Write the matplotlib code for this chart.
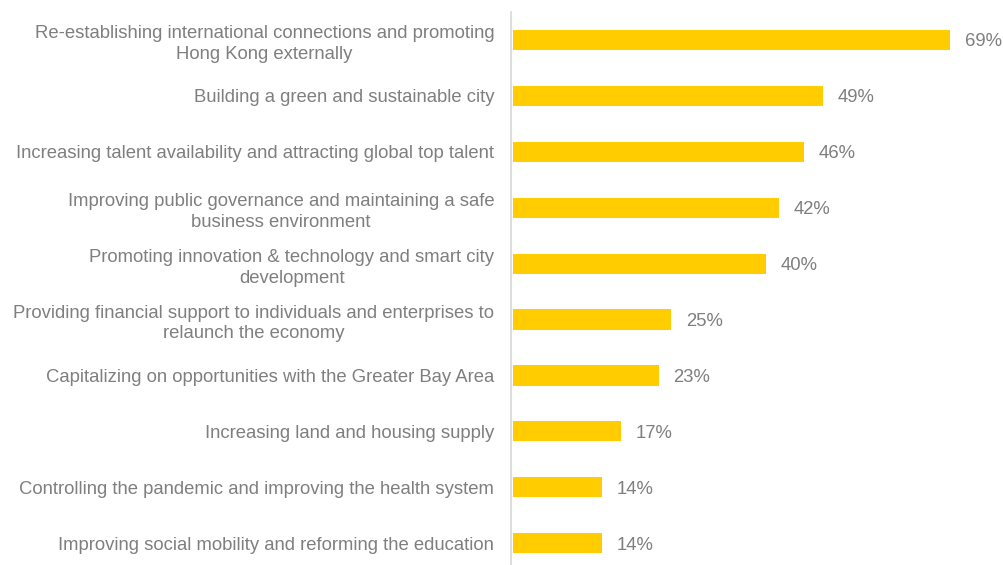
import matplotlib
matplotlib.use('Agg')
import matplotlib.pyplot as plt

plt.rcParams['font.family'] = ['Liberation Sans', 'DejaVu Sans']

categories = [
    "Re-establishing international connections and promoting\nHong Kong externally",
    "Building a green and sustainable city",
    "Increasing talent availability and attracting global top talent",
    "Improving public governance and maintaining a safe\nbusiness environment",
    "Promoting innovation & technology and smart city\ndevelopment",
    "Providing financial support to individuals and enterprises to\nrelaunch the economy",
    "Capitalizing on opportunities with the Greater Bay Area",
    "Increasing land and housing supply",
    "Controlling the pandemic and improving the health system",
    "Improving social mobility and reforming the education",
]
values = [69, 49, 46, 42, 40, 25, 23, 17, 14, 14]

grey = '#7f7f7f'
fig = plt.figure(figsize=(10.04, 5.65), dpi=100)
ax = fig.add_axes([511 / 1004, 0, 1 - 511 / 1004, 1 - 12 / 565])

pos = list(range(len(values)))
ax.barh(pos, values, height=0.36, color='#FFCC00', left=0)
for p, v in zip(pos, values):
    ax.text(v + 2.3, p, f"{v}%", va='center_baseline', ha='left', color=grey, fontsize=13.3)

ax.set_xlim(-0.3, 77.5)
ax.set_ylim(9.39, -0.5)
ax.set_yticks(pos)
ax.set_yticklabels(categories, fontsize=13.3, color=grey, ha='right', multialignment='center', linespacing=1.3)
ax.tick_params(axis='y', length=0, pad=12)
ax.set_xticks([])
for s in ['top', 'right', 'bottom']:
    ax.spines[s].set_visible(False)
ax.spines['left'].set_color('#d9d9d9')
ax.spines['left'].set_linewidth(1.2)

fig.savefig('out.png', dpi=100)
